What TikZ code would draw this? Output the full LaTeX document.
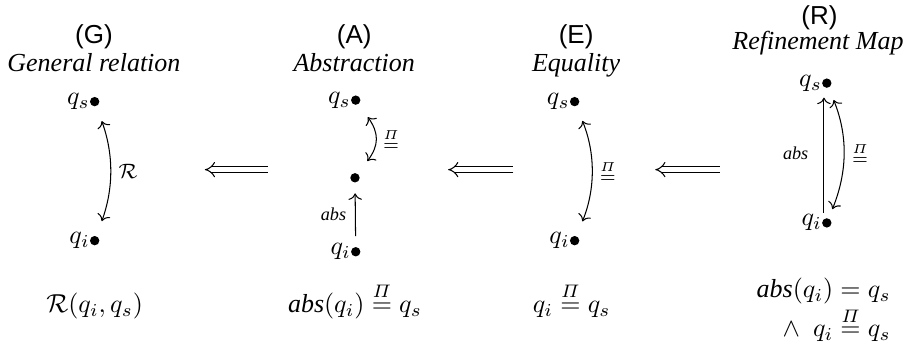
\documentclass[tikz,border=0pt]{standalone}
\usepackage{amsmath, amssymb}
\usepackage[no-math]{fontspec}
\setmainfont{Liberation Serif}
\setsansfont{Liberation Sans}
\usetikzlibrary{arrows.meta}

\begin{document}
\begin{tikzpicture}[
  vertex/.style={circle, fill, inner sep=0pt, minimum size=3.6pt},
  qlab/.style={inner sep=0.5pt},
  rel/.style={<->, shorten <=6pt, shorten >=6pt},
  lbl/.style={font=\scriptsize},
  weaker/.style={double equal sign distance, -{Implies}},
  tag/.style={font=\sffamily, anchor=base},
  title/.style={font=\itshape, anchor=base},
  label distance=-0.8pt]
\useasboundingbox (0,0) rectangle (12.44,4.664);
% (G)
\node[tag]   (gtag)  at (1.27,4.08) {(G)};
\node[title] (gname) at (1.27,3.70) {General relation};
\node[vertex, label={[qlab]left:$q_s$}] (gs) at (1.28,3.29) {};
\node[vertex, label={[qlab]left:$q_i$}] (gi) at (1.28,1.41) {};
\draw[rel] (gs) to[bend left=20] node[right, font=\footnotesize]{$\mathcal{R}$} (gi);
\node[anchor=base] (gform) at (1.28,0.44) {$\mathcal{R}(q_i,q_s)$};
% (A)
\node[tag]   (atag)  at (4.79,4.08) {(A)};
\node[title] (aname) at (4.79,3.70) {Abstraction};
\node[vertex, label={[qlab]left:$q_s$}] (as) at (4.81,3.31) {};
\node[vertex] (am) at (4.80,2.26) {};
\node[vertex, label={[qlab]left:$q_i$}] (ai) at (4.81,1.26) {};
\draw[rel] (as) to[bend left=36, looseness=1.3] node[right, lbl]{$\stackrel{\varPi}{=}$} (am);
\draw[->, shorten <=4pt, shorten >=4pt] (ai) -- node[left, lbl]{\textit{abs}} (am);
\node[anchor=base] (aform) at (4.80,0.44) {$\textit{abs}(q_i) \stackrel{\varPi}{=} q_s$};
% (E)
\node[tag]   (etag)  at (7.79,4.08) {(E)};
\node[title] (ename) at (7.79,3.70) {Equality};
\node[vertex, label={[qlab]left:$q_s$}] (es) at (7.77,3.29) {};
\node[vertex, label={[qlab]left:$q_i$}] (ei) at (7.77,1.41) {};
\draw[rel] (es) to[bend left=22] node[right, lbl]{$\stackrel{\varPi}{=}$} (ei);
\node[anchor=base] (eform) at (7.73,0.44) {$q_i \stackrel{\varPi}{=} q_s$};
% (R)
\node[tag]   (rtag)  at (11.08,4.33) {(R)};
\node[title] (rname) at (11.06,3.99) {Refinement Map};
\node[vertex, label={[qlab]left:$q_s$}] (rs) at (11.18,3.54) {};
\node[vertex, label={[qlab]left:$q_i$}] (ri) at (11.18,1.65) {};
\draw[->, shorten <=4pt, shorten >=5.6pt] ([xshift=-1.1pt]ri.center) -- node[left=2.5pt, lbl]{\textit{abs}} ([xshift=-1.1pt]rs.center);
\draw[<->, shorten <=5pt, shorten >=3.7pt] (rs) to[bend left=22] node[right, lbl]{$\stackrel{\varPi}{=}$} (ri);
\node[inner sep=0pt, align=right, anchor=east] (rform) at (12.05,0.47)
  {$\textit{abs}(q_i) = q_s$\\ $\wedge\ \ q_i \stackrel{\varPi}{=} q_s$};
% implications
\coordinate (ga) at (2.77,2.37);
\coordinate (ag) at (3.62,2.37);
\coordinate (ae) at (6.06,2.37);
\coordinate (ea) at (6.94,2.37);
\coordinate (er) at (8.86,2.37);
\coordinate (re) at (9.73,2.37);
\draw[weaker] (ag) -- (ga);
\draw[weaker] (ea) -- (ae);
\draw[weaker] (re) -- (er);
\end{tikzpicture}
\end{document}
